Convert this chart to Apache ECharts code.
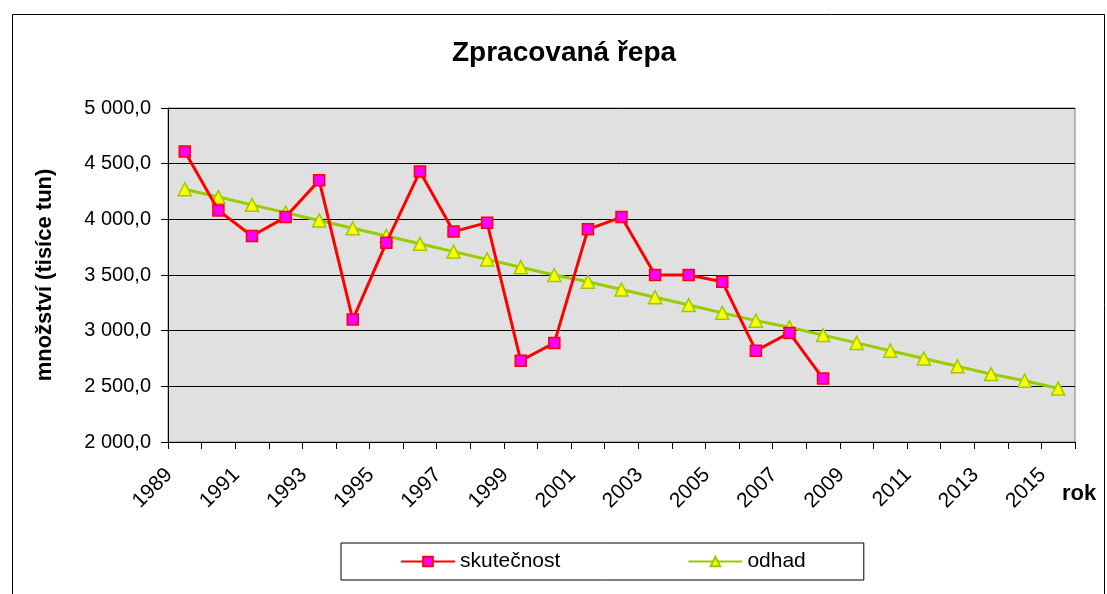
<!DOCTYPE html>
<html>
<head>
<meta charset="utf-8">
<script src="https://cdn.jsdelivr.net/npm/echarts@6/dist/echarts.min.js"></script>
<style>
  html, body { margin: 0; padding: 0; background: #fff; }
  #chart { width: 1107px; height: 594px; }
</style>
</head>
<body>
<div id="chart"></div>
<script>
// roky 1989 - 2015
var years = ['1989','1990','1991','1992','1993','1994','1995','1996','1997','1998',
  '1999','2000','2001','2002','2003','2004','2005','2006','2007','2008',
  '2009','2010','2011','2012','2013','2014','2015'];
var skutecnost = [4610, 4080, 3850, 4020, 4350, 3100, 3790, 4430, 3890, 3970,
  2730, 2890, 3910, 4020, 3500, 3500, 3440, 2820, 2980, 2570];
var odhad = [4270, 4200, 4130, 4060, 3990, 3920, 3850, 3780, 3710, 3640,
  3570, 3500, 3440, 3370, 3300, 3230, 3160, 3090, 3030, 2960,
  2890, 2820, 2750, 2680, 2610, 2550, 2480];

function fmt(v) {
  var s = v.toFixed(1).split('.');
  return s[0].replace(/\B(?=(\d{3})+(?!\d))/g, ' ') + ',' + s[1];
}

var font = 'Liberation Sans, Arial, sans-serif';
var myChart = echarts.init(document.getElementById('chart'));
myChart.setOption({
  backgroundColor: '#fff',
  animation: false,
  title: {
    text: 'Zpracovaná řepa',
    left: 447,
    top: 34,
    textStyle: { fontFamily: font, fontSize: 28, fontWeight: 'bold', color: '#000' }
  },
  graphic: [
    { type: 'rect', left: 10, top: 12, shape: { width: 1092, height: 600 },
      style: { fill: 'none', stroke: '#000', lineWidth: 1 }, silent: true },
    { type: 'text', left: 1062, top: 483,
      style: { text: 'rok', font: 'bold 22px ' + font, fill: '#000' } }
  ],
  legend: {
    left: 341,
    top: 543,
    padding: [8, 58, 8, 59],
    itemGap: 127,
    itemWidth: 54,
    itemHeight: 12,
    borderColor: '#000',
    borderWidth: 1,
    textStyle: { fontFamily: font, fontSize: 21, color: '#000' },
    data: ['skutečnost', 'odhad']
  },
  grid: {
    left: 168, right: 32, top: 108, bottom: 152,
    show: true,
    backgroundColor: '#e0e0e0',
    borderColor: '#808080',
    borderWidth: 1
  },
  xAxis: {
    type: 'category',
    data: years,
    boundaryGap: true,
    axisLine: { lineStyle: { color: '#000', width: 1 } },
    axisTick: { show: true, interval: 0, length: 7, lineStyle: { color: '#000' } },
    axisLabel: {
      interval: 1,
      rotate: 45,
      margin: 14,
      padding: [0, 22, 0, 0],
      fontFamily: font,
      fontSize: 21,
      color: '#000'
    }
  },
  yAxis: {
    type: 'value',
    min: 2000,
    max: 5000,
    interval: 500,
    name: 'množství (tisíce tun)',
    nameLocation: 'middle',
    nameGap: 112,
    nameTextStyle: { fontFamily: font, fontSize: 22, fontWeight: 'bold', color: '#000' },
    axisLine: { show: true, lineStyle: { color: '#000' } },
    axisTick: { show: true, length: 7, lineStyle: { color: '#000' } },
    axisLabel: {
      fontFamily: font, fontSize: 20, color: '#000', margin: 17,
      formatter: fmt
    },
    splitLine: { lineStyle: { color: '#000', width: 1 } }
  },
  series: [
    {
      name: 'skutečnost',
      type: 'line',
      data: skutecnost,
      symbol: 'rect',
      symbolSize: 11,
      lineStyle: { color: '#ff0000', width: 3 },
      itemStyle: { color: '#ff00ff', borderColor: '#ff0000', borderWidth: 1.5 },
      z: 3
    },
    {
      name: 'odhad',
      type: 'line',
      data: odhad,
      symbol: 'triangle',
      symbolSize: 13,
      lineStyle: { color: '#99cc00', width: 3 },
      itemStyle: { color: '#ffff00', borderColor: '#99cc00', borderWidth: 1.5 },
      z: 2
    }
  ]
});
</script>
</body>
</html>
